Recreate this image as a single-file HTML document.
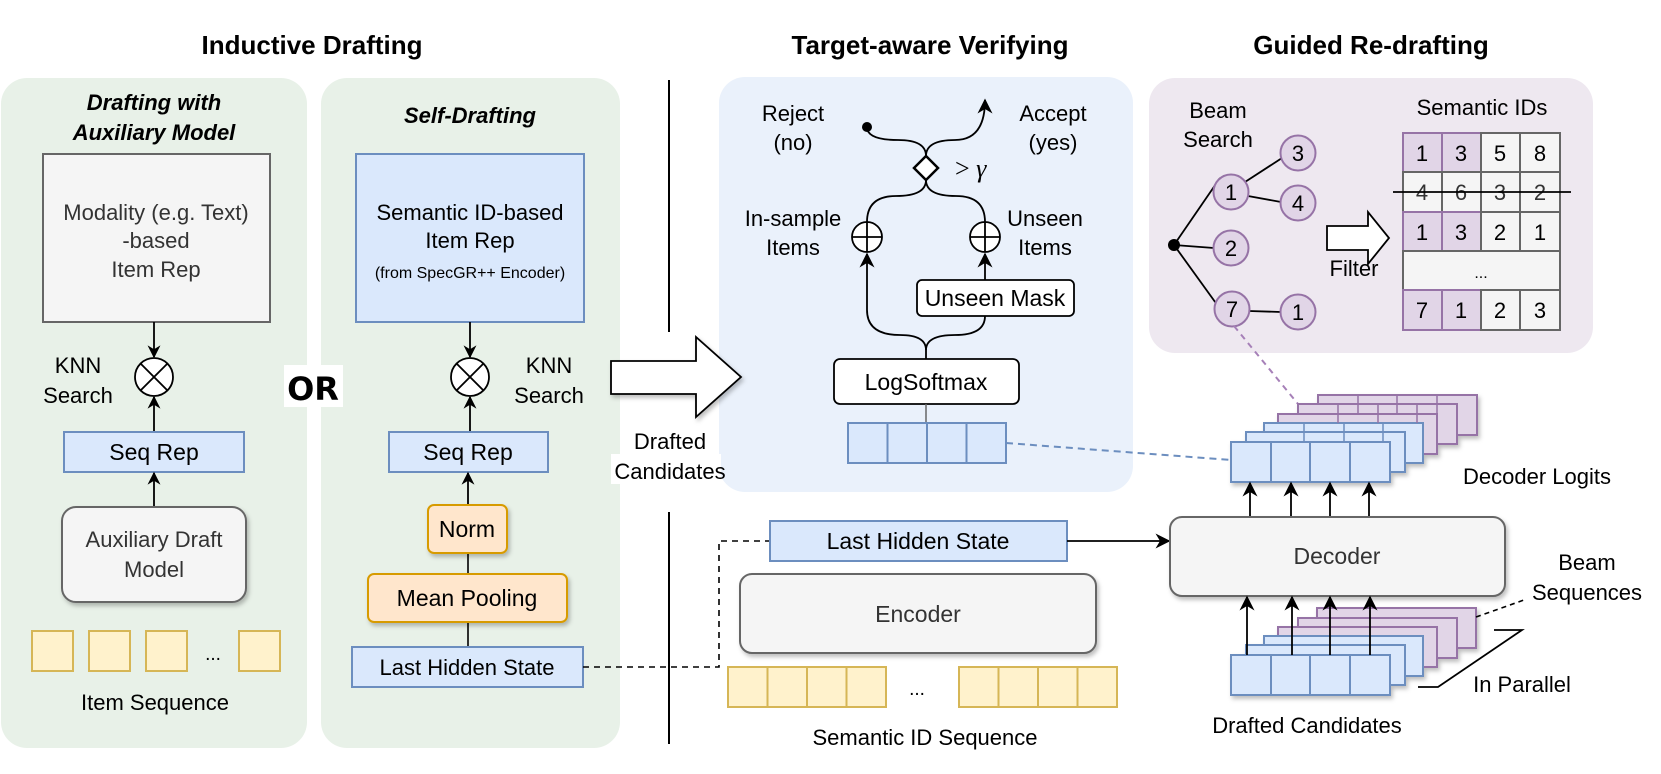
<!DOCTYPE html>
<html><head><meta charset="utf-8"><style>
html,body{margin:0;padding:0;background:#fff;}
svg{display:block;font-family:"Liberation Sans",Arial,sans-serif;}
</style></head><body>
<svg width="1661" height="774" viewBox="0 0 1661 774" xmlns="http://www.w3.org/2000/svg">
<defs>
<marker id="ah" viewBox="0 0 10 10" refX="9" refY="5" markerWidth="13" markerHeight="13" markerUnits="userSpaceOnUse" orient="auto"><path d="M0,0 L10,5 L0,10 L3,5 z" fill="#000"/></marker>
<marker id="ahL" viewBox="0 0 10 10" refX="9" refY="5" markerWidth="15" markerHeight="15" markerUnits="userSpaceOnUse" orient="auto"><path d="M0,0 L10,5 L0,10 L3,5 z" fill="#000"/></marker>
<filter id="sh" x="-10%" y="-10%" width="130%" height="140%"><feDropShadow dx="2" dy="3" stdDeviation="2" flood-color="#000" flood-opacity="0.25"/></filter>
</defs>

<!-- titles -->
<g font-weight="bold" font-size="26" text-anchor="middle">
<text x="312" y="54">Inductive Drafting</text>
<text x="930" y="54">Target-aware Verifying</text>
<text x="1371" y="54">Guided Re-drafting</text>
</g>

<!-- panels -->
<rect x="1" y="78" width="306" height="670" rx="26" fill="#E8F1E8"/>
<rect x="321" y="78" width="299" height="670" rx="26" fill="#E8F1E8"/>
<rect x="719" y="77" width="414" height="415" rx="26" fill="#EAF1FB"/>
<rect x="1149" y="78" width="444" height="275" rx="26" fill="#EEE8F0"/>

<line x1="669" y1="80" x2="669" y2="332" stroke="#000" stroke-width="2"/>
<line x1="669" y1="512" x2="669" y2="744" stroke="#000" stroke-width="2"/>

<g font-weight="bold" font-style="italic" font-size="22" text-anchor="middle">
<text x="154" y="110">Drafting with</text>
<text x="154" y="140">Auxiliary Model</text>
<text x="470" y="123">Self-Drafting</text>
</g>
<rect x="43" y="154" width="227" height="168" fill="#F5F5F5" stroke="#666" stroke-width="2"/>
<g font-size="22" text-anchor="middle" fill="#333">
<text x="156" y="220">Modality (e.g. Text)</text>
<text x="156" y="248">-based</text>
<text x="156" y="277">Item Rep</text>
</g>
<line x1="154" y1="322" x2="154" y2="357" stroke="#000" stroke-width="1.8" marker-end="url(#ah)"/>
<circle cx="154" cy="377" r="19" fill="#fff" stroke="#000" stroke-width="1.8"/>
<path d="M141,364 L167,390 M167,364 L141,390" stroke="#000" stroke-width="1.8"/>
<g font-size="22" text-anchor="middle">
<text x="78" y="373">KNN</text><text x="78" y="403">Search</text>
<text x="549" y="373">KNN</text><text x="549" y="403">Search</text>
</g>
<line x1="154" y1="432" x2="154" y2="397" stroke="#000" stroke-width="1.8" marker-end="url(#ah)"/>
<rect x="64" y="432" width="180" height="40" fill="#DAE8FC" stroke="#6C8EBF" stroke-width="2"/>
<text x="154" y="460" font-size="23" text-anchor="middle">Seq Rep</text>
<line x1="154" y1="507" x2="154" y2="473" stroke="#000" stroke-width="1.8" marker-end="url(#ah)"/>
<rect x="62" y="507" width="184" height="95" rx="14" fill="#F5F5F5" stroke="#666" stroke-width="2" filter="url(#sh)"/>
<g font-size="22" text-anchor="middle" fill="#333"><text x="154" y="547">Auxiliary Draft</text><text x="154" y="577">Model</text></g>
<g fill="#FFF2CC" stroke="#D6B656" stroke-width="2">
<rect x="32" y="631" width="41" height="40"/><rect x="89" y="631" width="41" height="40"/><rect x="146" y="631" width="41" height="40"/><rect x="239" y="631" width="41" height="40"/>
</g>
<text x="213" y="660" font-size="19" text-anchor="middle">...</text>
<text x="155" y="710" font-size="22" text-anchor="middle">Item Sequence</text>

<rect x="284" y="365" width="59" height="42" fill="#fff"/>
<text x="313" y="400" font-size="32" font-weight="900" text-anchor="middle" font-family="'DejaVu Sans',sans-serif">OR</text>

<rect x="356" y="154" width="228" height="168" fill="#DAE8FC" stroke="#6C8EBF" stroke-width="2"/>
<g text-anchor="middle"><text x="470" y="220" font-size="22">Semantic ID-based</text><text x="470" y="248" font-size="22">Item Rep</text><text x="470" y="278" font-size="16">(from SpecGR++ Encoder)</text></g>
<line x1="470" y1="322" x2="470" y2="357" stroke="#000" stroke-width="1.8" marker-end="url(#ah)"/>
<circle cx="470" cy="377" r="19" fill="#fff" stroke="#000" stroke-width="1.8"/>
<path d="M457,364 L483,390 M483,364 L457,390" stroke="#000" stroke-width="1.8"/>
<line x1="470" y1="432" x2="470" y2="397" stroke="#000" stroke-width="1.8" marker-end="url(#ah)"/>
<rect x="389" y="432" width="159" height="40" fill="#DAE8FC" stroke="#6C8EBF" stroke-width="2"/>
<text x="468" y="460" font-size="23" text-anchor="middle">Seq Rep</text>
<line x1="468" y1="505" x2="468" y2="473" stroke="#000" stroke-width="1.8" marker-end="url(#ah)"/>
<line x1="468" y1="553" x2="468" y2="574" stroke="#000" stroke-width="1.6"/>
<line x1="468" y1="622" x2="468" y2="647" stroke="#000" stroke-width="1.6"/>
<rect x="428" y="505" width="79" height="48" rx="6" fill="#FFE6CC" stroke="#D79B00" stroke-width="2" filter="url(#sh)"/>
<text x="467" y="537" font-size="23" text-anchor="middle">Norm</text>
<rect x="368" y="574" width="199" height="48" rx="6" fill="#FFE6CC" stroke="#D79B00" stroke-width="2" filter="url(#sh)"/>
<text x="467" y="606" font-size="23" text-anchor="middle">Mean Pooling</text>
<rect x="352" y="647" width="231" height="40" fill="#DAE8FC" stroke="#6C8EBF" stroke-width="2"/>
<text x="467" y="675" font-size="22" text-anchor="middle">Last Hidden State</text>

<path d="M583,667 L719,667 L719,541 L770,541" fill="none" stroke="#000" stroke-width="1.6" stroke-dasharray="6,5"/>

<path d="M611,361 L696,361 L696,337 L741,377 L696,417 L696,394 L611,394 Z" fill="#fff" stroke="#000" stroke-width="1.8" filter="url(#sh)"/>
<rect x="611" y="454" width="110" height="30" fill="#fff"/>
<g font-size="22" text-anchor="middle"><text x="670" y="449">Drafted</text><text x="670" y="479">Candidates</text></g>

<!-- VERIFYING -->
<g font-size="22" text-anchor="middle">
<text x="793" y="121">Reject</text><text x="793" y="150">(no)</text>
<text x="1053" y="121">Accept</text><text x="1053" y="150">(yes)</text>
<text x="793" y="226">In-sample</text><text x="793" y="255">Items</text>
<text x="1045" y="226">Unseen</text><text x="1045" y="255">Items</text>
</g>
<text x="955" y="177" font-size="26" font-family="'Liberation Serif',serif">&gt; <tspan font-style="italic">γ</tspan></text>
<g fill="none" stroke="#000" stroke-width="1.8">
<path d="M926,359 L926,350 Q926,335 900,335 Q867,335 867,310 L867,254" marker-end="url(#ahL)"/>
<path d="M926,350 Q926,335 955,335 Q985,335 985,316"/>
<path d="M985,280 L985,254" marker-end="url(#ahL)"/>
<path d="M867,222 Q867,196 896,196 Q926,196 926,180"/>
<path d="M985,222 Q985,196 956,196 Q926,196 926,180"/>
<path d="M926,156 Q926,140 898,140 Q867,140 867,127"/>
<path d="M926,156 Q926,140 955,140 Q985,140 985,100" marker-end="url(#ahL)"/>
</g>
<circle cx="867" cy="127" r="5" fill="#000"/>
<path d="M926,156 L938,168 L926,180 L914,168 Z" fill="#fff" stroke="#000" stroke-width="2.5"/>
<g fill="#fff" stroke="#000" stroke-width="1.8">
<circle cx="867" cy="237" r="15"/><circle cx="985" cy="237" r="15"/>
</g>
<path d="M852,237 H882 M867,222 V252 M970,237 H1000 M985,222 V252" stroke="#000" stroke-width="1.8"/>
<rect x="917" y="280" width="157" height="36" rx="5" fill="#fff" stroke="#000" stroke-width="1.8"/>
<text x="995" y="306" font-size="23" text-anchor="middle">Unseen Mask</text>
<rect x="834" y="359" width="185" height="45" rx="6" fill="#fff" stroke="#000" stroke-width="1.8"/>
<text x="926" y="390" font-size="23" text-anchor="middle">LogSoftmax</text>
<line x1="926" y1="404" x2="926" y2="423" stroke="#666" stroke-width="1.5"/>
<g fill="#DAE8FC" stroke="#6C8EBF" stroke-width="2">
<rect x="848" y="423" width="39.5" height="40"/><rect x="887.5" y="423" width="39.5" height="40"/><rect x="927" y="423" width="39.5" height="40"/><rect x="966.5" y="423" width="39.5" height="40"/>
</g>
<path d="M1006,443 L1231,460" stroke="#6C8EBF" stroke-width="2" stroke-dasharray="7,5"/>

<!-- ENCODER -->
<rect x="770" y="521" width="297" height="40" fill="#DAE8FC" stroke="#6C8EBF" stroke-width="2"/>
<text x="918" y="549" font-size="23" text-anchor="middle">Last Hidden State</text>
<line x1="1067" y1="541" x2="1169" y2="541" stroke="#000" stroke-width="1.8" marker-end="url(#ahL)"/>
<rect x="740" y="574" width="356" height="79" rx="12" fill="#F5F5F5" stroke="#666" stroke-width="2" filter="url(#sh)"/>
<text x="918" y="622" font-size="23" text-anchor="middle" fill="#333">Encoder</text>
<g fill="#FFF2CC" stroke="#D6B656" stroke-width="2">
<rect x="728" y="667" width="39.5" height="40"/><rect x="767.5" y="667" width="39.5" height="40"/><rect x="807" y="667" width="39.5" height="40"/><rect x="846.5" y="667" width="39.5" height="40"/>
<rect x="959" y="667" width="39.5" height="40"/><rect x="998.5" y="667" width="39.5" height="40"/><rect x="1038" y="667" width="39.5" height="40"/><rect x="1077.5" y="667" width="39.5" height="40"/>
</g>
<text x="917" y="695" font-size="19" text-anchor="middle">...</text>
<text x="925" y="745" font-size="22" text-anchor="middle">Semantic ID Sequence</text>

<!-- RE-DRAFTING -->
<g font-size="22" text-anchor="middle">
<text x="1218" y="118">Beam</text><text x="1218" y="147">Search</text>
<text x="1482" y="115">Semantic IDs</text>
<text x="1354" y="276">Filter</text>
</g>
<g stroke="#000" stroke-width="1.8">
<line x1="1174" y1="245" x2="1220" y2="178"/>
<line x1="1174" y1="245" x2="1214" y2="248"/>
<line x1="1174" y1="245" x2="1218" y2="306"/>
<line x1="1245" y1="182" x2="1282" y2="158"/>
<line x1="1248" y1="196" x2="1281" y2="202"/>
<line x1="1249" y1="311" x2="1281" y2="312"/>
</g>
<circle cx="1174" cy="245" r="6" fill="#000"/>
<g fill="#E1D5E7" stroke="#9673A6" stroke-width="2">
<circle cx="1231" cy="192" r="17.5"/><circle cx="1231" cy="248" r="17.5"/><circle cx="1232" cy="309" r="17.5"/>
<circle cx="1298" cy="153" r="17.5"/><circle cx="1298" cy="203" r="17.5"/><circle cx="1298" cy="312" r="17.5"/>
</g>
<g font-size="22" text-anchor="middle">
<text x="1231" y="200">1</text><text x="1231" y="256">2</text><text x="1232" y="317">7</text>
<text x="1298" y="161">3</text><text x="1298" y="211">4</text><text x="1298" y="320">1</text>
</g>
<path d="M1327,226 L1368,226 L1368,212 L1389,238 L1368,264 L1368,250 L1327,250 Z" fill="#fff" stroke="#000" stroke-width="1.8"/>
<g stroke="#666" stroke-width="2">
<rect x="1403" y="133" width="39" height="39" fill="#E1D5E7" stroke="#9673A6"/><rect x="1442" y="133" width="39" height="39" fill="#E1D5E7" stroke="#9673A6"/>
<rect x="1481" y="133" width="39" height="39" fill="#F5F5F5"/><rect x="1520" y="133" width="40" height="39" fill="#F5F5F5"/>
<rect x="1403" y="172" width="39" height="40" fill="#F5F5F5"/><rect x="1442" y="172" width="39" height="40" fill="#F5F5F5"/><rect x="1481" y="172" width="39" height="40" fill="#F5F5F5"/><rect x="1520" y="172" width="40" height="40" fill="#F5F5F5"/>
<rect x="1403" y="212" width="39" height="39" fill="#E1D5E7" stroke="#9673A6"/><rect x="1442" y="212" width="39" height="39" fill="#E1D5E7" stroke="#9673A6"/>
<rect x="1481" y="212" width="39" height="39" fill="#F5F5F5"/><rect x="1520" y="212" width="40" height="39" fill="#F5F5F5"/>
<rect x="1403" y="251" width="157" height="39" fill="#F5F5F5"/>
<rect x="1403" y="290" width="39" height="40" fill="#E1D5E7" stroke="#9673A6"/><rect x="1442" y="290" width="39" height="40" fill="#E1D5E7" stroke="#9673A6"/>
<rect x="1481" y="290" width="39" height="40" fill="#F5F5F5"/><rect x="1520" y="290" width="40" height="40" fill="#F5F5F5"/>
</g>
<g font-size="22" text-anchor="middle">
<text x="1422" y="161">1</text><text x="1461" y="161">3</text><text x="1500" y="161">5</text><text x="1540" y="161">8</text>
<text x="1422" y="200" fill="#333">4</text><text x="1461" y="200" fill="#333">6</text><text x="1500" y="200" fill="#333">3</text><text x="1540" y="200" fill="#333">2</text>
<text x="1422" y="240">1</text><text x="1461" y="240">3</text><text x="1500" y="240">2</text><text x="1540" y="240">1</text>
<text x="1481" y="278" font-size="16">...</text>
<text x="1422" y="318">7</text><text x="1461" y="318">1</text><text x="1500" y="318">2</text><text x="1540" y="318">3</text>
</g>
<line x1="1393" y1="192" x2="1571" y2="192" stroke="#000" stroke-width="1.8"/>
<path d="M1234,326 L1298,404" stroke="#A680B8" stroke-width="2" stroke-dasharray="6,5"/>

<g stroke-width="2" filter="url(#sh)">
<g fill="#E1D5E7" stroke="#9673A6">
<rect x="1318" y="395" width="159" height="40"/><rect x="1298" y="404" width="159" height="40"/><rect x="1278" y="414" width="159" height="40"/>
</g>
<g fill="#DAE8FC" stroke="#6C8EBF">
<rect x="1264" y="423" width="159" height="40"/><rect x="1246" y="432" width="159" height="40"/><rect x="1231" y="442" width="159" height="40"/>
</g>
</g>
<g stroke-width="1.5" fill="none">
<path d="M1358,395 V414 M1397,395 V414 M1437,395 V414" stroke="#9673A6"/>
<path d="M1338,404 V423 M1378,404 V423 M1417,404 V423" stroke="#9673A6"/>
<path d="M1304,423 V442 M1344,423 V442 M1383,423 V442" stroke="#6C8EBF"/>
<path d="M1271,482 V442 M1310,482 V442 M1350,482 V442" stroke="#6C8EBF" stroke-width="2"/>
</g>
<g stroke="#000" stroke-width="1.8">
<line x1="1250" y1="517" x2="1250" y2="483" marker-end="url(#ahL)"/>
<line x1="1291" y1="517" x2="1291" y2="483" marker-end="url(#ahL)"/>
<line x1="1330" y1="517" x2="1330" y2="483" marker-end="url(#ahL)"/>
<line x1="1369" y1="517" x2="1369" y2="483" marker-end="url(#ahL)"/>
</g>
<text x="1537" y="484" font-size="22" text-anchor="middle">Decoder Logits</text>

<rect x="1170" y="517" width="335" height="79" rx="12" fill="#F5F5F5" stroke="#666" stroke-width="2" filter="url(#sh)"/>
<text x="1337" y="564" font-size="23" text-anchor="middle" fill="#333">Decoder</text>
<g font-size="22" text-anchor="middle"><text x="1587" y="570">Beam</text><text x="1587" y="600">Sequences</text></g>

<g stroke-width="2" filter="url(#sh)">
<g fill="#E1D5E7" stroke="#9673A6">
<rect x="1317" y="608" width="159" height="40"/><rect x="1298" y="618" width="159" height="40"/><rect x="1278" y="627" width="159" height="40"/>
</g>
<g fill="#DAE8FC" stroke="#6C8EBF">
<rect x="1264" y="636" width="159" height="40"/><rect x="1246" y="645" width="159" height="40"/><rect x="1231" y="655" width="159" height="40"/>
</g>
</g>
<path d="M1271,695 V655 M1310,695 V655 M1350,695 V655" stroke="#6C8EBF" stroke-width="2"/>
<g stroke="#000" stroke-width="1.8">
<line x1="1247" y1="655" x2="1247" y2="597" marker-end="url(#ahL)"/>
<line x1="1292" y1="655" x2="1292" y2="597" marker-end="url(#ahL)"/>
<line x1="1330" y1="655" x2="1330" y2="597" marker-end="url(#ahL)"/>
<line x1="1370" y1="655" x2="1370" y2="597" marker-end="url(#ahL)"/>
</g>
<path d="M1476,617 L1524,600" stroke="#000" stroke-width="1.6" stroke-dasharray="5,4"/>
<path d="M1418,687 L1438,687 L1522,630 L1494,630" fill="none" stroke="#000" stroke-width="1.8"/>
<text x="1522" y="692" font-size="22" text-anchor="middle">In Parallel</text>
<text x="1307" y="733" font-size="22" text-anchor="middle">Drafted Candidates</text>
</svg>
</body></html>
